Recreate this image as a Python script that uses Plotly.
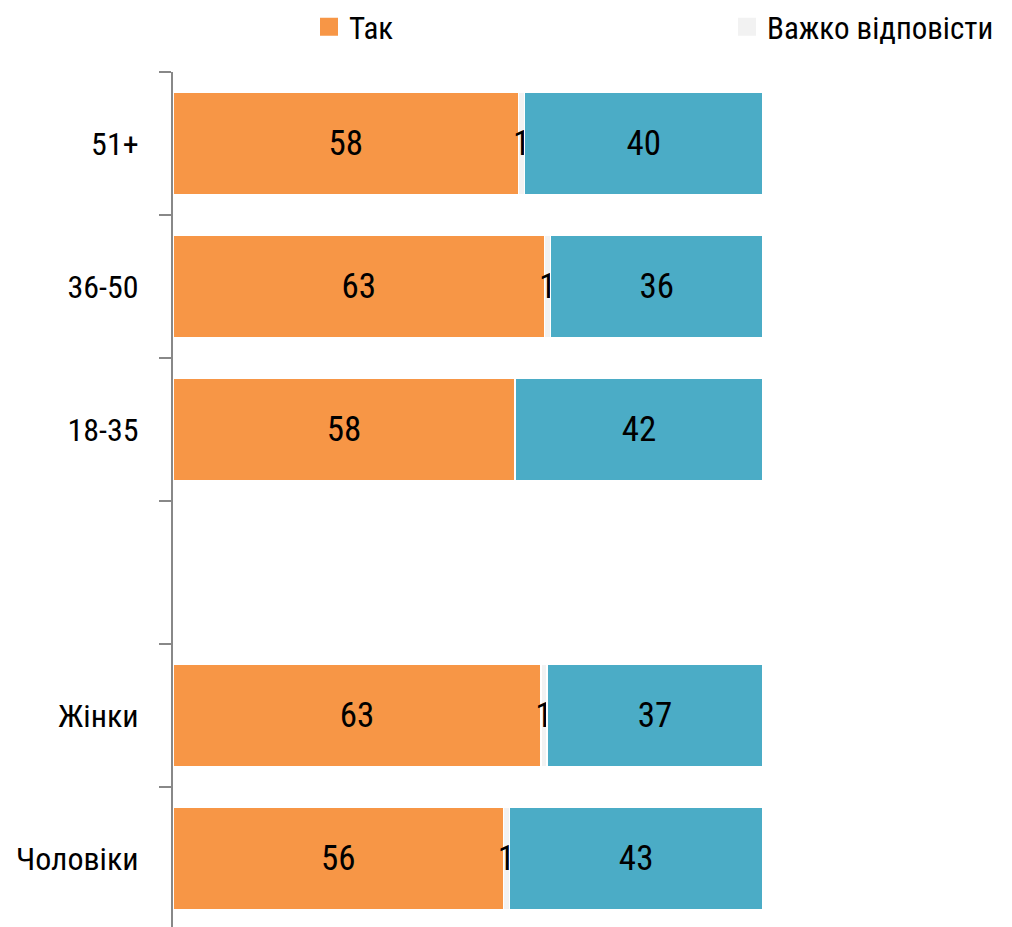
import plotly.graph_objects as go

categories = ["Чоловіки", "Жінки", " ", "18-35", "36-50", "51+"]
tak = [56, 63, None, 58, 63, 58]
vazhko = [1, 1, None, 0, 1, 1]
ni = [43, 37, None, 42, 36, 40]

C_TAK = "#F79646"
C_VAZHKO = "#F2F2F2"
C_NI = "#4BACC6"

FONT = "Liberation Sans Narrow, Arial Narrow, Roboto Condensed, Liberation Sans, Arial, sans-serif"

def labels(vals):
    return ["" if (v is None or v == 0) else str(v) for v in vals]

fig = go.Figure()
for vals, name, color in [(tak, "Так", C_TAK), (vazhko, "Важко відповісти", C_VAZHKO), (ni, "Ні", C_NI)]:
    fig.add_trace(go.Bar(
        y=categories, x=vals, name=name, orientation="h",
        marker=dict(color=color, line=dict(color="white", width=1.5)),
        text=labels(vals), textposition="inside", insidetextanchor="middle",
        textangle=0, constraintext="none",
        textfont=dict(color="black", size=35, family=FONT),
        showlegend=False, hoverinfo="skip",
    ))

# legend entries (larger square swatches than the default bar swatch)
fig.add_trace(go.Scatter(x=[None], y=[None], mode="markers", name="Так",
                         marker=dict(symbol="square", size=16, color=C_TAK, line=dict(color=C_TAK, width=2)),
                         legend="legend"))
fig.add_trace(go.Scatter(x=[None], y=[None], mode="markers", name="Важко відповісти",
                         marker=dict(symbol="square", size=16, color=C_VAZHKO, line=dict(color=C_VAZHKO, width=2)),
                         legend="legend2"))

L, R, T, B = 165, 257, 64, 5
W = 1012 - L - R

leg_common = dict(orientation="h", xanchor="left", yref="container", y=1 - 19 / 927,
                  yanchor="middle", font=dict(size=31, family=FONT, color="black"),
                  bgcolor="rgba(0,0,0,0)", itemsizing="trace")

fig.update_layout(
    width=1012, height=927,
    barmode="stack", barnorm="percent", bargap=0.28,
    margin=dict(l=L, r=R, t=T, b=B, pad=0, autoexpand=False),
    paper_bgcolor="white", plot_bgcolor="white",
    font=dict(family=FONT, size=35, color="black"),
    legend=dict(x=(301 - L) / W, **leg_common),
    legend2=dict(x=(719 - L) / W, **leg_common),
    xaxis=dict(range=[0, 100], visible=False, fixedrange=True, automargin=False),
    yaxis=dict(
        type="category", categoryorder="array", categoryarray=categories,
        range=[-0.5, 5.5], tickson="boundaries", automargin=False,
        showline=True, linecolor="#888888", linewidth=2,
        ticks="outside", ticklen=12, tickwidth=2, tickcolor="#888888",
        ticklabelstandoff=26, showgrid=False, zeroline=False,
        tickfont=dict(size=32, family=FONT, color="black"),
    ),
)

fig.write_html("out.html")
